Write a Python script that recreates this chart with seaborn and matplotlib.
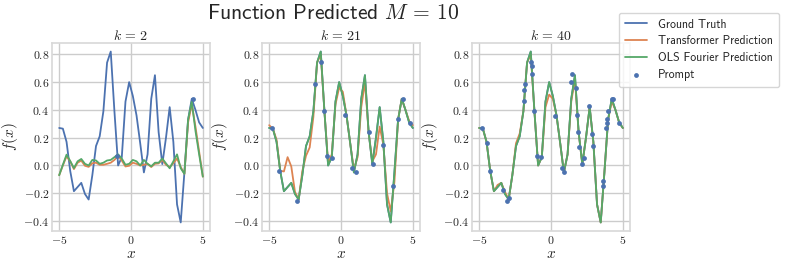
import numpy as np
import matplotlib
matplotlib.use("Agg")
import matplotlib.pyplot as plt
import seaborn as sns

# evaluation grid (40 points on [-5, 5])
x_grid = np.linspace(-5, 5, 40)

ground_truth = [0.27, 0.265, 0.17, -0.04, -0.185, -0.155, -0.125, -0.205, -0.245, -0.07,
                0.14, 0.21, 0.39, 0.74, 0.82, 0.39, 0.0, 0.06, 0.46, 0.60,
                0.50, 0.36, 0.16, -0.05, 0.08, 0.48, 0.65, 0.24, 0.01, 0.20,
                0.42, 0.17, -0.28, -0.41, -0.05, 0.33, 0.48, 0.40, 0.31, 0.27]

# k = 2
transformer_k2 = [-0.07, 0.0, 0.066, 0.03, -0.026, 0.02, 0.035, -0.002, -0.01, 0.016,
                  0.02, 0.005, 0.005, 0.012, 0.02, 0.04, 0.07, 0.035, -0.007, -0.002,
                  0.02, 0.012, 0.0, 0.005, 0.012, -0.011, 0.012, 0.015, 0.04, 0.005,
                  -0.011, 0.016, 0.05, -0.01, -0.06, 0.31, 0.44, 0.28, 0.10, -0.08]
ols_k2 = [-0.07, 0.005, 0.078, 0.032, -0.019, 0.03, 0.047, 0.012, 0.0, 0.04,
          0.036, 0.012, 0.02, 0.036, 0.04, 0.06, 0.08, 0.05, 0.005, 0.012,
          0.04, 0.03, 0.0, 0.04, 0.012, -0.006, 0.02, 0.02, 0.05, 0.015,
          -0.02, 0.03, 0.08, -0.02, -0.06, 0.33, 0.46, 0.25, 0.08, -0.08]
prompt_x_k2 = [-0.99, 4.35]
prompt_y_k2 = [0.07, 0.476]

# k = 21
transformer_k21 = [0.29, 0.264, 0.186, -0.038, -0.043, 0.06, -0.007, -0.19, -0.245, -0.04,
                   0.07, 0.13, 0.35, 0.74, 0.80, 0.39, 0.02, 0.08, 0.44, 0.56,
                   0.53, 0.36, 0.16, -0.03, 0.06, 0.42, 0.60, 0.24, 0.03, 0.08,
                   0.28, 0.15, -0.20, -0.33, -0.12, 0.33, 0.48, 0.40, 0.32, 0.29]
ols_k21 = [0.27, 0.265, 0.17, -0.04, -0.185, -0.155, -0.125, -0.205, -0.245, -0.07,
           0.14, 0.21, 0.39, 0.74, 0.82, 0.39, 0.0, 0.06, 0.46, 0.60,
           0.50, 0.36, 0.16, -0.05, 0.08, 0.48, 0.65, 0.24, 0.01, 0.20,
           0.42, 0.17, -0.28, -0.41, -0.05, 0.33, 0.48, 0.40, 0.31, 0.27]
prompt_x_k21 = [-4.79, -4.32, -3.04, -1.83, -1.36, -1.15, -0.99, -0.66, 0.31, 0.78,
                1.01, 1.97, 2.20, 2.95, 3.65, 3.95, 4.35, 4.77]
prompt_y_k21 = [0.27, -0.043, -0.254, 0.59, 0.742, 0.39, 0.07, 0.053, 0.36, -0.015,
                -0.05, 0.24, 0.012, 0.145, -0.147, 0.336, 0.476, 0.307]

# k = 40
transformer_k40 = [0.27, 0.265, 0.17, -0.04, -0.185, -0.14, -0.125, -0.19, -0.245, -0.07,
                   0.16, 0.23, 0.39, 0.74, 0.80, 0.39, 0.0, 0.06, 0.42, 0.51,
                   0.48, 0.36, 0.16, -0.05, 0.08, 0.46, 0.62, 0.24, 0.01, 0.20,
                   0.42, 0.17, -0.28, -0.41, -0.05, 0.33, 0.46, 0.40, 0.31, 0.27]
ols_k40 = [0.27, 0.265, 0.17, -0.04, -0.185, -0.155, -0.125, -0.205, -0.245, -0.07,
           0.14, 0.21, 0.39, 0.74, 0.82, 0.39, 0.0, 0.06, 0.46, 0.60,
           0.50, 0.36, 0.16, -0.05, 0.08, 0.48, 0.65, 0.24, 0.01, 0.20,
           0.42, 0.17, -0.28, -0.41, -0.05, 0.33, 0.48, 0.40, 0.31, 0.27]
prompt_x_k40 = [-4.79, -4.49, -4.26, -3.31, -3.03, -2.94, -1.90, -1.86, -1.81, -1.37,
                -1.35, -1.30, -1.19, -1.00, -0.68, 0.26, 0.77, 0.93, 1.40, 1.49,
                1.72, 1.84, 1.90, 1.97, 2.18, 2.30, 2.67, 2.85, 2.92, 3.61,
                3.61, 3.86, 3.89, 3.91, 3.98, 4.22, 4.30, 4.74]
prompt_y_k40 = [0.27, 0.162, -0.043, -0.176, -0.256, -0.236, 0.464, 0.541, 0.59, 0.742,
                0.717, 0.66, 0.39, 0.07, 0.058, 0.357, -0.017, -0.05, 0.60, 0.655,
                0.56, 0.36, 0.24, 0.133, 0.01, 0.053, 0.428, 0.23, 0.143, -0.109,
                -0.147, 0.271, 0.307, 0.338, 0.391, 0.476, 0.476, 0.307]

ks = [2, 21, 40]
transformer = [transformer_k2, transformer_k21, transformer_k40]
ols = [ols_k2, ols_k21, ols_k40]
prompts_x = [prompt_x_k2, prompt_x_k21, prompt_x_k40]
prompts_y = [prompt_y_k2, prompt_y_k21, prompt_y_k40]

sns.set_theme(style="whitegrid")
plt.rcParams["font.family"] = "serif"
plt.rcParams["font.serif"] = ["cmr10"]
plt.rcParams["mathtext.fontset"] = "cm"
plt.rcParams["axes.formatter.use_mathtext"] = True
pal = sns.color_palette("deep")

fig = plt.figure(figsize=(7.89, 2.69), dpi=100)
lefts = [52 / 789, 262 / 789, 472 / 789]
axes = [fig.add_axes([l, 38 / 269, 158 / 789, 188 / 269]) for l in lefts]

for i, ax in enumerate(axes):
    sns.lineplot(x=x_grid, y=ground_truth, ax=ax, color=pal[0], lw=1.3, label="Ground Truth")
    sns.lineplot(x=x_grid, y=transformer[i], ax=ax, color=pal[1], lw=1.3, label="Transformer Prediction")
    sns.lineplot(x=x_grid, y=ols[i], ax=ax, color=pal[2], lw=1.3, label="OLS Fourier Prediction")
    sns.scatterplot(x=prompts_x[i], y=prompts_y[i], ax=ax, color=pal[0], s=12, linewidth=0,
                    label="Prompt", zorder=5)
    ax.set_title(rf"$k\,=\,{ks[i]}$", fontsize=10, pad=2)
    ax.set_xlabel("$x$", fontsize=11, labelpad=1)
    ax.set_ylabel("$f(x)$", fontsize=11)
    ax.yaxis.set_label_coords(-0.205, 0.5)
    ax.set_xticks([-5, 0, 5])
    ax.set_yticks([-0.4, -0.2, 0.0, 0.2, 0.4, 0.6, 0.8])
    ax.tick_params(labelsize=8.5, length=0, pad=2)
    for s in ax.spines.values():
        s.set_color("0.85")
    ax.get_legend().remove()

handles, labels = axes[0].get_legend_handles_labels()
fig.legend(handles, labels, loc="upper right", bbox_to_anchor=(0.995, 0.975),
           prop={"family": "cmss10", "size": 8.5}, frameon=True,
           handlelength=1.9, handletextpad=0.95, borderpad=0.5, labelspacing=0.42)
fig.suptitle(r"Function Predicted $M\,=\,10$", fontsize=15.5, family="cmss10",
             x=0.422, y=0.985)

fig.savefig("out.png", dpi=100)
